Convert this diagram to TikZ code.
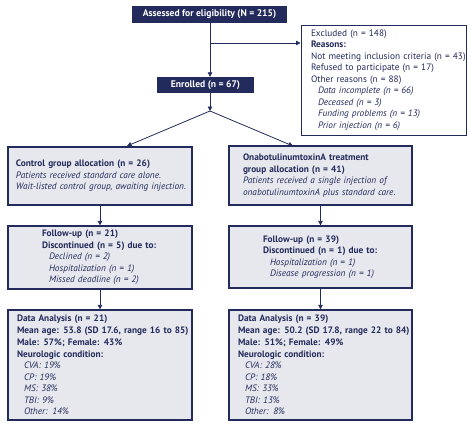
\documentclass[tikz,border=0pt]{standalone}
\usepackage{fontspec}
\setmainfont{PT Sans}
\usepackage{xcolor}
\usetikzlibrary{arrows.meta}

\definecolor{navy}{HTML}{232B5C}
\definecolor{boxgrey}{HTML}{E7E8ED}

\tikzset{
	headbox/.style={fill=navy,text=white,inner sep=0pt,font=\bfseries\fontsize{9.6}{11}\selectfont},
	infobox/.style={draw=navy,line width=1.3pt,fill=boxgrey,text=navy,align=left,inner ysep=0pt,font=\fontsize{9.3}{11.5}\selectfont},
	conn/.style={draw=navy,line width=0.8pt,-{Triangle[length=4.5pt,width=4.5pt]}}
}
\newcommand{\sub}[1]{\hspace*{7pt}\textit{#1}}

\begin{document}
\begin{tikzpicture}[x=1pt,y=-1pt]
	\useasboundingbox (0,0) rectangle (470,423);
	% top part
	\node[headbox,minimum width=155,minimum height=17] (assess) at (209.5,14.5) {Assessed for eligibility (N = 215)};
	\node[infobox,fill=white,line width=1pt,minimum width=165,minimum height=110,text width=145,inner xsep=10] (excl) at (383.5,80)
		{Excluded (n = 148)\\
		\textbf{Reasons:}\\
		\mbox{Not meeting inclusion criteria (n = 43)}\\
		Refused to participate (n = 17)\\
		Other reasons (n = 88)\\
		\sub{Data incomplete (n = 66)}\\
		\sub{Deceased (n = 3)}\\
		\sub{Funding problems (n = 13)}\\
		\sub{Prior injection (n = 6)}};
	\node[headbox,minimum width=97,minimum height=16] (enrol) at (205.5,85) {Enrolled (n = 67)};
	% allocation
	\node[infobox,minimum width=184,minimum height=58,text width=168,inner xsep=8] (ctrl) at (100,176)
		{\textbf{Control group allocation (n = 26)}\\
		\textit{Patients received standard care alone.}\\
		\mbox{\textit{Wait-listed control group, awaiting injection.}}};
	\node[infobox,minimum width=183,minimum height=59,text width=155,inner xsep=14] (treat) at (320.5,175.5)
		{\textbf{OnabotulinumtoxinA treatment}\\
		\textbf{group allocation (n = 41)}\\
		\mbox{\textit{Patients received a single injection of}}\\
		\mbox{\textit{onabotulinumtoxinA plus standard care.}}};
	% follow-up
	\node[infobox,minimum width=184,minimum height=63,text width=116,inner xsep=34] (fuctrl) at (100,257.5)
		{\textbf{Follow-up (n = 21)}\\
		\mbox{\textbf{Discontinued (n = 5) due to:}}\\
		\sub{Declined (n = 2)}\\
		\sub{Hospitalization (n = 1)}\\
		\sub{Missed deadline (n = 2)}};
	\node[infobox,minimum width=183,minimum height=62,text width=115,inner xsep=34] (futreat) at (320.5,257)
		{\textbf{Follow-up (n = 39)}\\
		\mbox{\textbf{Discontinued (n = 1) due to:}}\\
		\sub{Hospitalization (n = 1)}\\
		\sub{Disease progression (n = 1)}};
	% analysis
	\node[infobox,minimum width=184,minimum height=110,text width=166,inner xsep=9] (dactrl) at (100,365)
		{\textbf{Data Analysis (n = 21)}\\[0.5pt]
		\mbox{\textbf{Mean age: 53.8 (SD 17.6, range 16 to 85)}}\\
		\textbf{Male: 57\%; Female: 43\%}\\[0.5pt]
		\textbf{Neurologic condition:}\\
		\sub{CVA: 19\%}\\
		\sub{CP: 19\%}\\
		\sub{MS: 38\%}\\
		\sub{TBI: 9\%}\\
		\sub{Other: 14\%}};
	\node[infobox,minimum width=183,minimum height=110,text width=165,inner xsep=9] (datreat) at (320.5,365)
		{\textbf{Data Analysis (n = 39)}\\[0.5pt]
		\mbox{\textbf{Mean age: 50.2 (SD 17.8, range 22 to 84)}}\\
		\textbf{Male: 51\%; Female: 49\%}\\[0.5pt]
		\textbf{Neurologic condition:}\\
		\sub{CVA: 28\%}\\
		\sub{CP: 18\%}\\
		\sub{MS: 33\%}\\
		\sub{TBI: 13\%}\\
		\sub{Other: 8\%}};
	% connectors
	\coordinate (excljoin) at (210,43);
	\coordinate (split) at (210,111);
	\coordinate (ctrlin) at (127,146);
	\coordinate (treatin) at (293,146);
	\draw[conn] (excljoin |- assess.south) -- (excljoin |- enrol.north);
	\draw[conn] (excljoin) -- (excljoin -| excl.west);
	\draw[conn] (split |- enrol.south) -- (split);
	\draw[conn] (split) -- (ctrlin);
	\draw[conn] (split) -- (treatin);
	\draw[conn] (ctrl.south) -- (fuctrl.north);
	\draw[conn] (treat.south) -- (futreat.north);
	\draw[conn] (fuctrl.south) -- (dactrl.north);
	\draw[conn] (futreat.south) -- (datreat.north);
\end{tikzpicture}
\end{document}
